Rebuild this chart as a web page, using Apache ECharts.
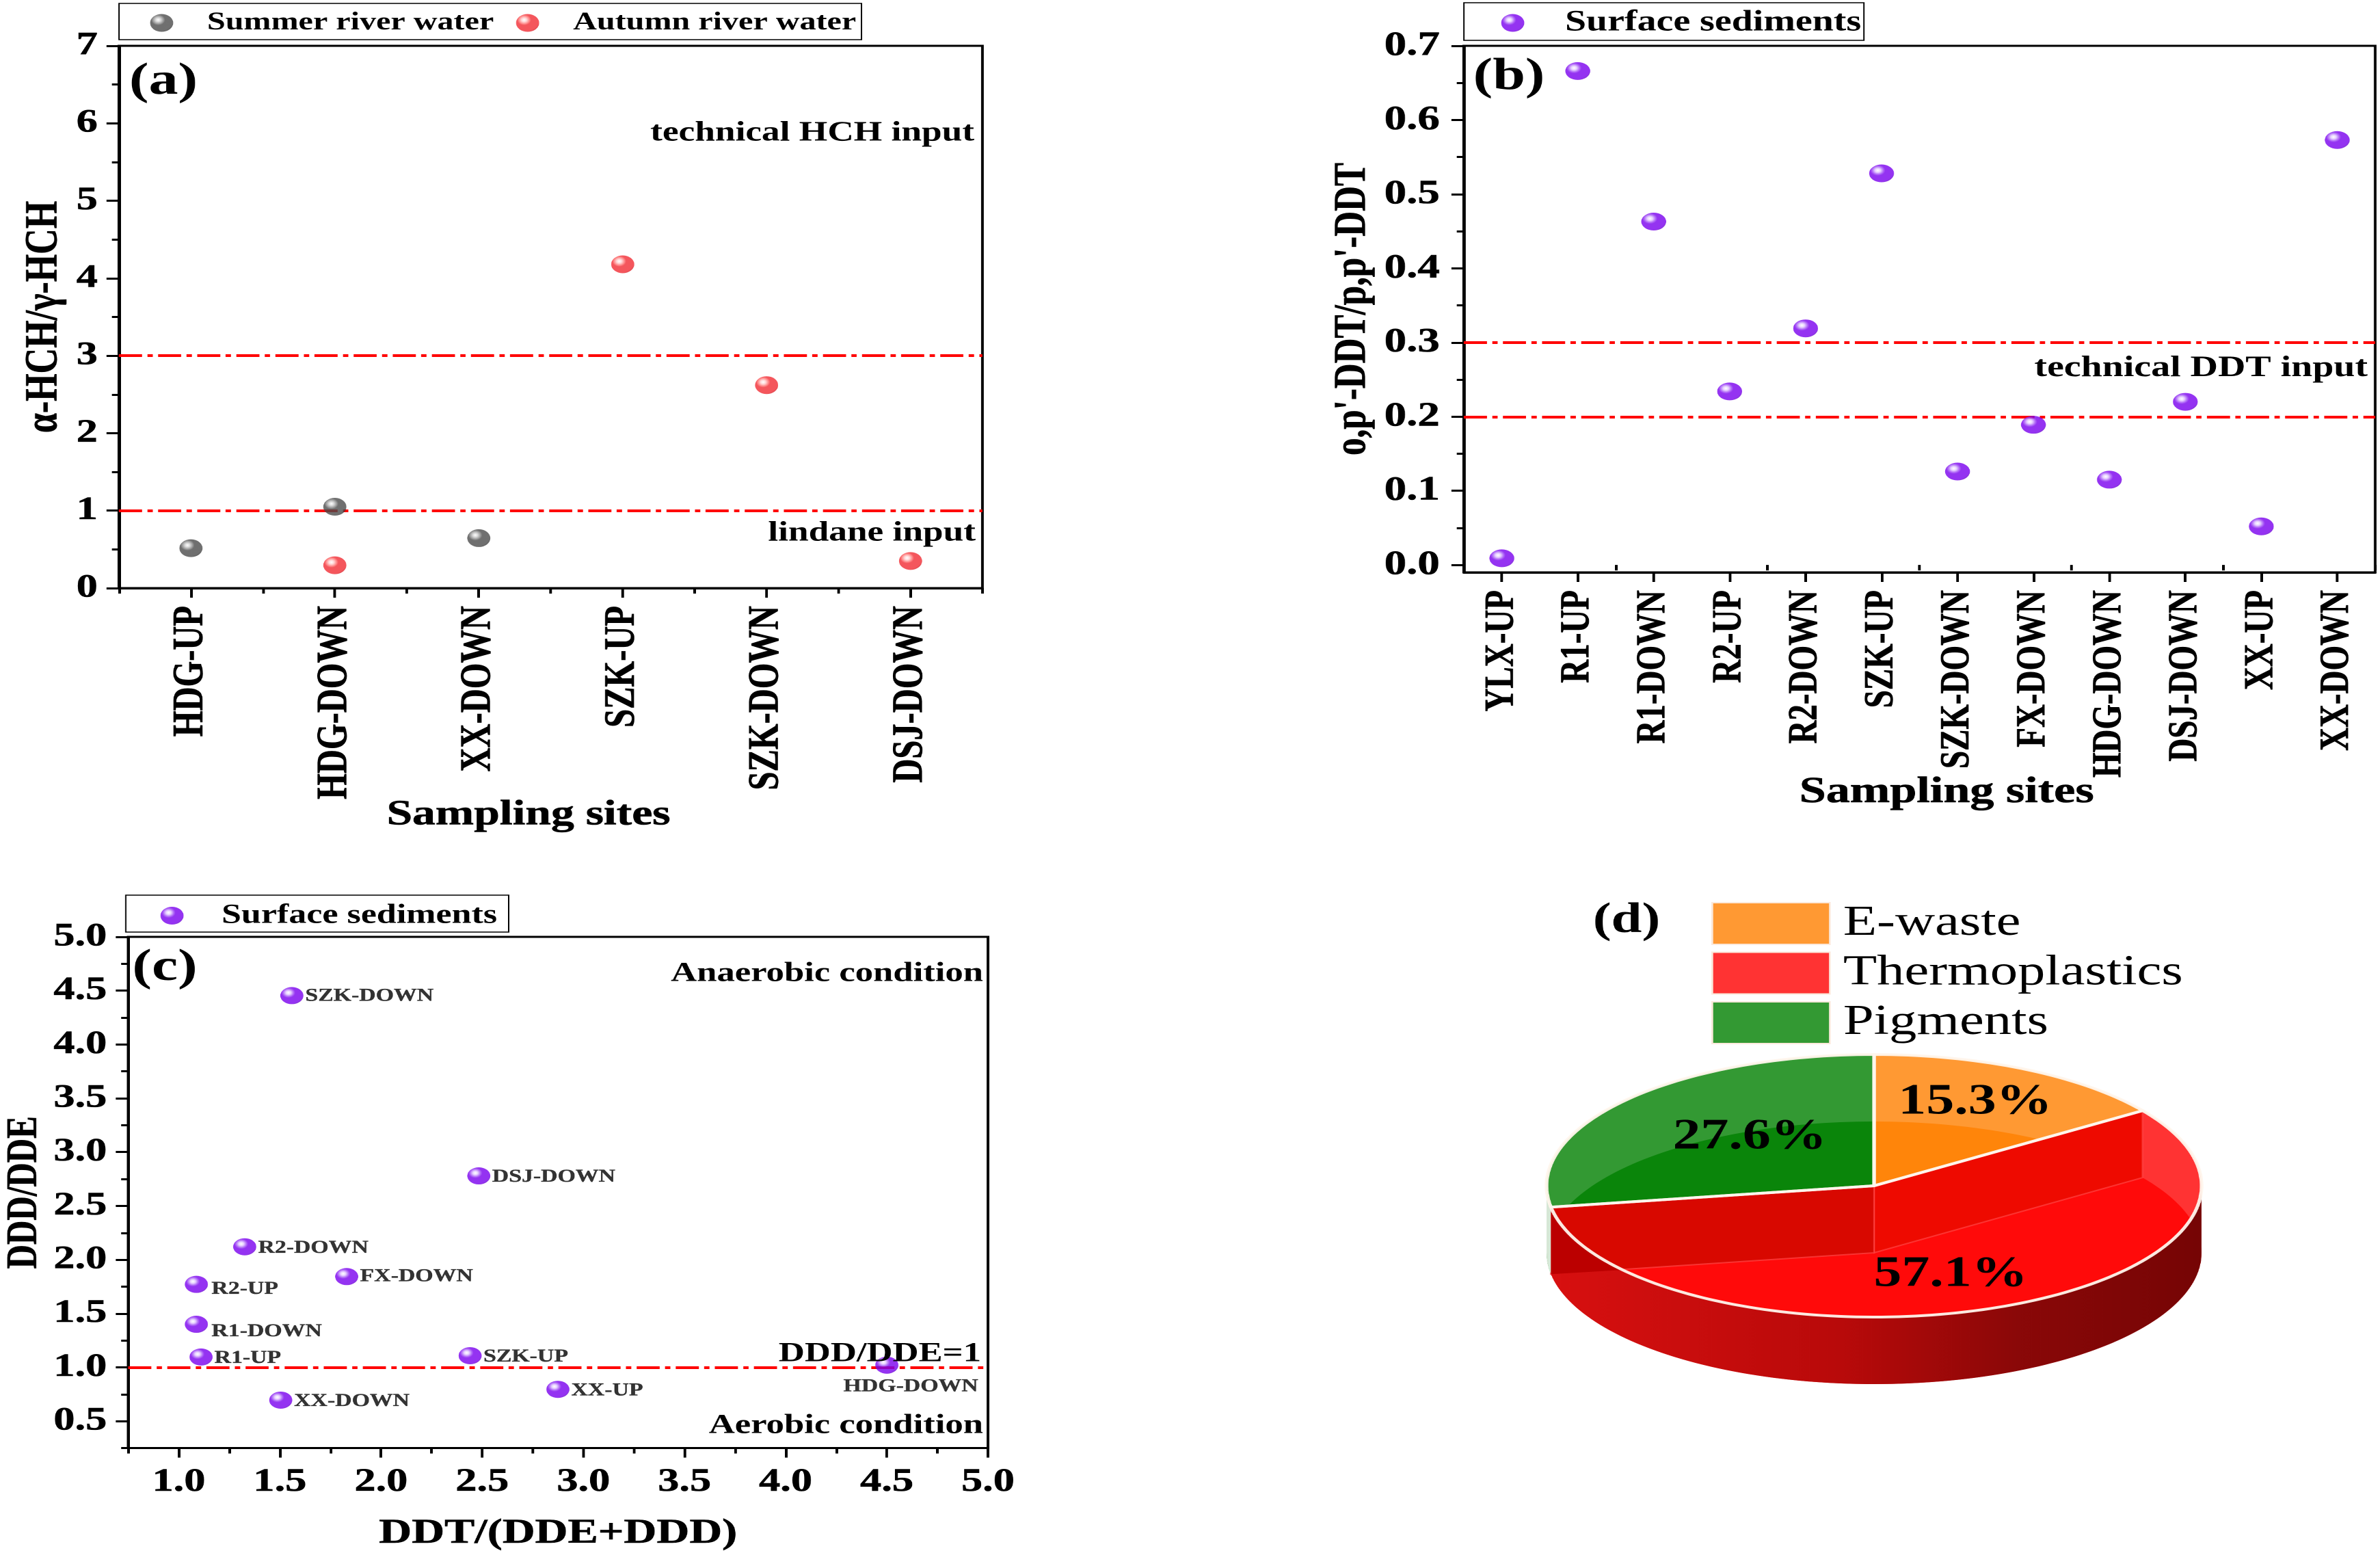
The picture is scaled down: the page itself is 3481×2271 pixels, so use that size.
<!DOCTYPE html>
<html><head><meta charset="utf-8">
<style>html,body{margin:0;padding:0;background:#fff;overflow:hidden;width:3481px;height:2271px}
#c{height:2271px;transform-origin:0 0}</style>
<script src="https://cdn.jsdelivr.net/npm/echarts@6/dist/echarts.min.js"></script>
</head><body><div id="c"></div>
<script>
// ---------- data ----------
const sitesA = ['HDG-UP','HDG-DOWN','XX-DOWN','SZK-UP','SZK-DOWN','DSJ-DOWN'];
const summerRatio = [0.515,1.05,0.645,null,null,null];
const autumnRatio = [null,0.295,null,4.18,2.62,0.35];
const hchThresholds = [3,1];
const sitesB = ['YLX-UP','R1-UP','R1-DOWN','R2-UP','R2-DOWN','SZK-UP','SZK-DOWN','FX-DOWN','HDG-DOWN','DSJ-DOWN','XX-UP','XX-DOWN'];
const ddtRatio = [0.009,0.666,0.463,0.234,0.319,0.528,0.126,0.189,0.115,0.22,0.052,0.573];
const ddtThresholds = [0.3,0.2];
const ticksB = [0,0.1,0.2,0.3,0.4,0.5,0.6,0.7];
const minorTicksB = [0.05,0.15,0.25,0.35,0.45,0.55,0.65];
const sitesC = ['SZK-DOWN','DSJ-DOWN','R2-DOWN','FX-DOWN','R2-UP','R1-DOWN','R1-UP','SZK-UP','HDG-DOWN','XX-UP','XX-DOWN'];
const ddtOverDdeDdd = [1.559,2.483,1.326,1.83,1.087,1.087,1.11,2.44,4.5,2.874,1.504];
const dddOverDde = [4.454,2.779,2.12,1.843,1.771,1.4,1.096,1.108,1.02,0.795,0.695];
const ticksCx = [1,1.5,2,2.5,3,3.5,4,4.5,5];
const minorTicksCx = [0.75,1.25,1.75,2.25,2.75,3.25,3.75,4.25,4.75];
const ticksCy = [0.5,1,1.5,2,2.5,3,3.5,4,4.5,5];
const minorTicksCy = [0.25,0.75,1.25,1.75,2.25,2.75,3.25,3.75,4.25,4.75];
const dddThreshold = [1];
const sourceNames = ['E-waste','Thermoplastics','Pigments'];
const sourceShares = [15.3,57.1,27.6];

// ---------- styling / layout ----------
const S = 1.3, X = v => v / S;
document.getElementById('c').style.width = (3481 / S) + 'px';
document.getElementById('c').style.transform = 'scaleX(' + S + ')';
const FONT = '"Liberation Serif"';
const ball = (hi,mid,c,dark) => ({type:'radial',x:0.35,y:0.33,r:0.72,colorStops:[
  {offset:0,color:'#ffffff'},{offset:0.15,color:hi},{offset:0.32,color:mid},{offset:0.42,color:c},{offset:0.9,color:c},{offset:1,color:dark}]});
const PURPLE = ball('#e2c8ff','#9a40f5','#7a00ee','#6a00d0');
const GREY = ball('#d0d0d0','#808080','#4c4c4c','#3a3a3a');
const RED = ball('#ffd0d0','#ff6a6a','#f22c34','#d81c24');
const dashLine = {symbol:'none',silent:true,label:{show:false},
  lineStyle:{color:'#ff0000',width:4,type:[26,6,6,6],opacity:1}};
const tickFont = {fontFamily:FONT,fontWeight:'bold',fontSize:48,color:'#000',textBorderColor:'#000',textBorderWidth:0.6};
const nameFont = {fontFamily:FONT,fontWeight:'bold',color:'#000',textBorderColor:'#000',textBorderWidth:0.6};
const grids = [
  {left:X(174),width:X(1263),top:67,height:793},
  {left:X(2141),width:X(1333),top:67,height:770},
  {left:X(187.5),width:X(1257.5),top:1370,height:747.5}
].map(g=>({...g,show:true,borderColor:'#000',borderWidth:3,backgroundColor:'#fff'}));
const line = {show:true,onZero:false,lineStyle:{color:'#000',width:3}};
const ctick = (len,extra)=>({show:true,length:len,lineStyle:{color:'#000',width:3},...extra});
function catAxes(i,data,gap,padR,labelSize,nameSize){
  return [{gridIndex:i,type:'category',data,position:'bottom',axisLine:line,
    axisTick:ctick(14,{alignWithLabel:true}),splitLine:{show:false},
    axisLabel:{...tickFont,rotate:90,interval:0,margin:26,fontSize:labelSize,hideOverlap:false,padding:[5,0,0,0]},
    name:'Sampling sites',nameLocation:'middle',nameGap:gap,nameMoveOverlap:false,
    nameTextStyle:{...nameFont,fontSize:nameSize,padding:[0,padR,0,0]}},
   {gridIndex:i,type:'category',data,position:'bottom',axisLine:{show:false},
    axisTick:ctick(8,{}),axisLabel:{show:false},splitLine:{show:false}}];
}
function valAxes(i,dim,min,max,ticks,minors,fmt,name,gap,margin,fs,fontSize){
  const pos = dim==='x'?'bottom':'left';
  return [{gridIndex:i,type:'value',min,max,position:pos,axisLine:line,splitLine:{show:false},
    axisTick:ctick(14,{customValues:ticks}),
    axisLabel:{...tickFont,fontSize,margin,customValues:ticks,formatter:v=>v.toFixed(fmt),padding:dim==='y'?[5,0,0,0]:0},
    name,nameLocation:'middle',nameGap:gap,nameMoveOverlap:false,
    nameTextStyle:{...nameFont,fontSize:fs}},
   {gridIndex:i,type:'value',min,max,position:pos,axisLine:{show:false},splitLine:{show:false},
    axisLabel:{show:false},axisTick:ctick(8,{customValues:minors})}];
}
const intTicks=[0,1,2,3,4,5,6,7], intMinor=[0.5,1.5,2.5,3.5,4.5,5.5,6.5];
const xAxis=[...catAxes(0,sitesA,306,50,48.5,52),...catAxes(1,sitesB,295,-61,47,54),
  ...valAxes(2,'x',0.75,5,ticksCx,minorTicksCx,1,'DDT/(DDE+DDD)',100,26,51,48)];
const yAxis=[...valAxes(0,'y',0,7,intTicks,intMinor,0,'α-HCH/γ-HCH',58,24,52,48),
  ...valAxes(1,'y',-0.01,0.7,ticksB,minorTicksB,1,"o,p'-DDT/p,p'-DDT",99,27,51,50),
  ...valAxes(2,'y',0.25,5,ticksCy,minorTicksCy,1,'DDD/DDE',92,24,49,48)];

const labelShift = {'R2-UP':[2,7],'R1-DOWN':[2,11],'R1-UP':[0,2],'SZK-UP':[0,2],'R2-DOWN':[0,2],'XX-DOWN':[0,2],'XX-UP':[0,2],'SZK-DOWN':[0,1],'DSJ-DOWN':[0,2],'HDG-DOWN':[27,4]};
const scatterC = sitesC.map((n,i)=>{
  const d={value:[ddtOverDdeDdd[i],dddOverDde[i]],name:n};
  if(n==='HDG-DOWN') d.label={position:'bottom',distance:2};
  return d;
});
const mk = arr => ({...dashLine,data:arr.map(v=>({yAxis:v}))});

// ---------- 3-D style pie from sourceShares ----------
const PIE = {cx:X(2741),cy:1734,a:X(479),b:192,t:98};
const glass = ['rgba(255,128,0,0.8)','rgba(255,0,0,0.8)','rgba(0,127,0,0.8)'];
const rimColor = 'rgba(255,246,236,0.95)';
const P = (deg,dy)=>{const r=deg*Math.PI/180;return [PIE.cx+PIE.a*Math.sin(r),PIE.cy-PIE.b*Math.cos(r)+dy];};
const arc = (a0,a1,dy)=>{const out=[],n=Math.max(2,Math.ceil(Math.abs(a1-a0)/1.5));
  for(let i=0;i<=n;i++)out.push(P(a0+(a1-a0)*i/n,dy));return out;};
const bounds = sourceShares.reduce((acc,v)=>{acc.push(acc[acc.length-1]+v*3.6);return acc;},[0]);
const labelAt = [[X(2889),1612],[X(2853),1864],[X(2559),1663]];
const poly = (points,style,z2)=>({type:'polygon',z2,silent:true,shape:{points},style});
function cornerArc(a1){
  // part of the front rim that lies above the lower edge of the left radial wall
  const e=P(a1,PIE.t), c=[PIE.cx,PIE.cy+PIE.t];
  let d=a1;
  while(d>180){const p=P(d,0);const ly=e[1]+(p[0]-e[0])/(c[0]-e[0])*(c[1]-e[1]);if(p[1]>=ly)break;d-=0.5;}
  return [...arc(a1,d,0),e];
}
function renderSlice(i){
  return function(){
    const a0=bounds[i],a1=bounds[i+1],kids=[];
    kids.push(poly([[PIE.cx,PIE.cy+PIE.t],...arc(a0,a1,PIE.t)],{fill:glass[i]},10));
    kids.push(poly([[PIE.cx,PIE.cy],...arc(a0,a1,0)],{fill:glass[i]},20));
    if(i===1){
      const wall=(deg,fill)=>poly([[PIE.cx,PIE.cy],P(deg,0),P(deg,PIE.t),[PIE.cx,PIE.cy+PIE.t]],
        {fill,stroke:'rgba(255,70,70,0.7)',lineWidth:2},30);
      kids.push(wall(a0,'#ee0a00'),wall(a1,'#d80800'));
      kids.push(poly([...arc(90,a1,0),...arc(a1,90,PIE.t)],{
        fill:new echarts.graphic.LinearGradient(0,0,1,0,[
          {offset:0,color:'#d81010'},{offset:0.45,color:'#b80a0a'},
          {offset:0.72,color:'#8a0808'},{offset:1,color:'#760505'}])},40));
      kids.push(poly(cornerArc(a1),{fill:'#bb0000'},45));
      kids.push(poly([...arc(a1,270,0),...arc(270,a1,PIE.t)],{fill:'#d6e7d6'},35));
    }
    kids.push(poly([[PIE.cx,PIE.cy],...arc(a0,a1,0)],{fill:'none',stroke:rimColor,lineWidth:4,lineJoin:'round'},50));
    kids.push({type:'text',z2:60,silent:true,style:{x:labelAt[i][0],y:labelAt[i][1],
      text:sourceShares[i].toFixed(1)+'%',fill:'#000',font:'bold 63px '+FONT,align:'center',verticalAlign:'middle'}});
    return {type:'group',children:kids};
  };
}
const pieSeries = sourceNames.map((n,i)=>({name:n,type:'custom',coordinateSystem:'none',
  renderItem:renderSlice(i),data:[[sourceShares[i]]],silent:true,
  itemStyle:{color:['#ff9933','#ff3333','#339933'][i]}}));

// ---------- texts ----------
const note=(text,x,y,size,align)=>({type:'text',silent:true,z:50,style:{x:X(x),y,text,fill:'#000',
  font:'bold '+size+'px '+FONT,align:align||'right',verticalAlign:'middle'}});
const graphic=[
  note('(a)',239,120,66,'center'),note('technical HCH input',1425,195,41),note('lindane input',1427,780,41),
  note('(b)',2207,113,66,'center'),note('technical DDT input',3463,539,43),
  note('(c)',241,1416,66,'center'),note('Anaerobic condition',1438,1424,40.5),note('Aerobic condition',1438,2085,40.5),note('DDD/DDE=1',1435,1980,40.5),
  note('(d)',2379,1347,62,'center')
];
const lgBase={orient:'horizontal',borderColor:'#000',borderWidth:1.5,backgroundColor:'#fff',
  itemHeight:26,selectedMode:false};
const lgText=fontSize=>({fontFamily:FONT,fontWeight:'bold',fontSize,color:'#000'});

const option={animation:false,backgroundColor:'#fff',grid:grids,xAxis,yAxis,graphic,
 legend:[
  {...lgBase,left:X(174),top:5,itemWidth:X(120),itemGap:25,padding:[10,6,6,35],textStyle:lgText(37),
   data:['Summer river water','Autumn river water']},
  {...lgBase,left:X(2141),top:4,itemWidth:X(140),padding:[8,3,4,42],textStyle:lgText(43),data:['Surface sediments']},
  {...lgBase,left:X(184),top:1309,itemWidth:X(132),padding:[10,3,4,39],textStyle:lgText(40),data:[{name:'Surface sediments '}]},
  {left:X(2503),top:1319,orient:'vertical',itemWidth:X(172),itemHeight:61,itemGap:9.5,selectedMode:false,padding:0,
   textStyle:{fontFamily:FONT,fontSize:62,color:'#000',padding:[6,0,0,10]},
   data:sourceNames.map(name=>({name,icon:'rect',itemStyle:{borderColor:'#fbe9dc',borderWidth:2}}))}
 ],
 series:[
  {name:'Summer river water',type:'scatter',xAxisIndex:0,yAxisIndex:0,symbolSize:[26,26],data:summerRatio,itemStyle:{color:GREY},z:5,markLine:{...mk(hchThresholds),z:3}},
  {name:'Autumn river water',type:'scatter',xAxisIndex:0,yAxisIndex:0,symbolSize:[26,26],data:autumnRatio,itemStyle:{color:RED},z:5},
  {name:'Surface sediments',type:'scatter',xAxisIndex:2,yAxisIndex:2,symbolSize:[28,26],data:ddtRatio,itemStyle:{color:PURPLE},z:5,markLine:{...mk(ddtThresholds),z:3}},
  {name:'Surface sediments ',type:'scatter',xAxisIndex:4,yAxisIndex:4,symbolSize:[26,25],data:scatterC,itemStyle:{color:PURPLE},z:5,
   label:{show:true,position:'right',distance:2,formatter:p=>p.name,fontFamily:FONT,fontWeight:'bold',fontSize:26,color:'#000',textBorderColor:'#000',textBorderWidth:0.3},
   labelLayout:p=>{const s=labelShift[sitesC[p.dataIndex]]||[0,0];return {dx:s[0],dy:s[1],hideOverlap:false};},
   markLine:{...mk(dddThreshold),z:3}},
  ...pieSeries
 ]};
const chart=echarts.init(document.getElementById('c'),null,{devicePixelRatio:2});
chart.setOption(option);
</script></body></html>
